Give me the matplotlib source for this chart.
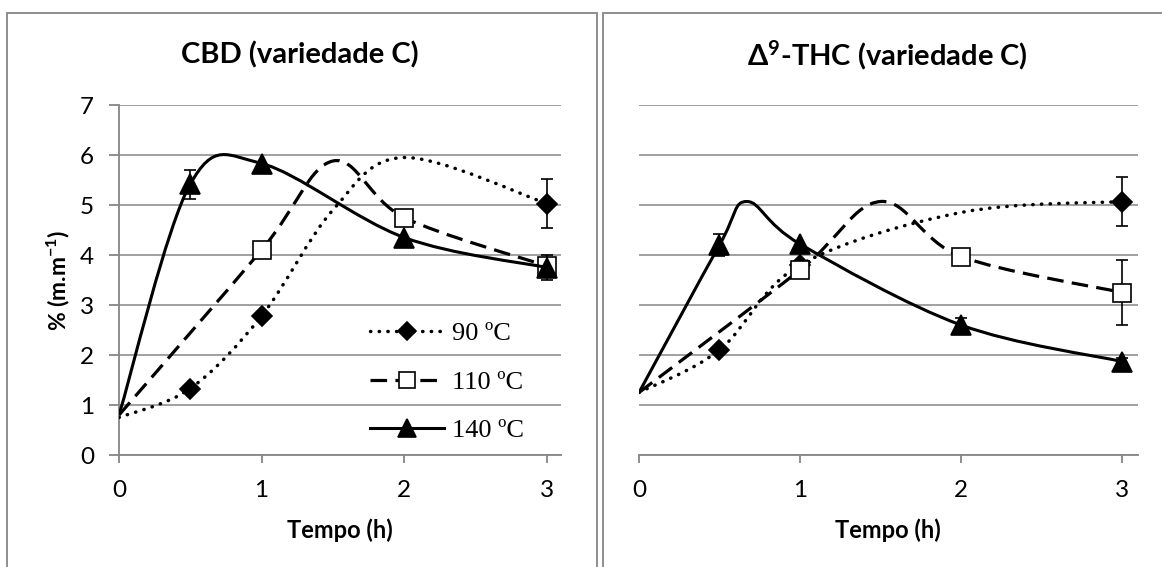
import matplotlib
matplotlib.use("Agg")
import matplotlib.pyplot as plt
import numpy as np
from matplotlib.path import Path
from matplotlib.patches import PathPatch, Rectangle
from matplotlib.lines import Line2D

# CBD (variedade C) -- pontos sem marcador (False) so dao forma a curva suavizada
t_cbd_90 = [0, 0.5, 1, 1.5, 2, 3]
cbd_90 = [0.75, 1.33, 2.78, 4.9, 5.95, 5.03]
cbd_90_mark = [False, True, True, False, False, True]
cbd_90_err = [0, 0, 0, 0, 0, 0.49]

t_cbd_110 = [0, 1, 1.5, 2, 3]
cbd_110 = [0.8, 4.1, 5.88, 4.75, 3.78]
cbd_110_mark = [False, True, False, True, True]
cbd_110_err = [0, 0, 0, 0, 0.15]

t_cbd_140 = [0, 0.5, 1, 2, 3]
cbd_140 = [0.8, 5.42, 5.83, 4.35, 3.75]
cbd_140_mark = [False, True, True, True, True]
cbd_140_err = [0, 0.29, 0, 0, 0.25]

# delta9-THC (variedade C)
t_thc_90 = [0, 0.5, 1, 2, 3]
thc_90 = [1.25, 2.1, 3.8, 4.85, 5.07]
thc_90_mark = [False, True, True, False, True]
thc_90_err = [0, 0, 0, 0, 0.49]

t_thc_110 = [0, 1, 1.5, 2, 3]
thc_110 = [1.25, 3.7, 5.07, 3.97, 3.25]
thc_110_mark = [False, True, False, True, True]
thc_110_err = [0, 0, 0, 0, 0.65]

t_thc_140 = [0, 0.5, 0.67, 1, 2, 3]
thc_140 = [1.25, 4.2, 5.07, 4.22, 2.6, 1.87]
thc_140_mark = [False, True, False, True, True, True]
thc_140_err = [0, 0.22, 0, 0, 0.15, 0.08]

labels = ["90 ºC", "110 ºC", "140 ºC"]
x_ticks = [0, 1, 2, 3]
y_ticks = [0, 1, 2, 3, 4, 5, 6, 7]

gray = "#868686"
font_lbl = ["Lato", "DejaVu Sans"]

# estilos: pontilhado, tracejado, continuo
styles = [
    dict(marker="D", ms=10, mfc="black", ls=(0, (0.1, 2.4)), lw=2.5, cap="round"),
    dict(marker="s", ms=13, mfc="white", ls=(0, (5.2, 2.6)), lw=2.3, cap="butt"),
    dict(marker="^", ms=14, mfc="black", ls="-", lw=2.2, cap="butt"),
]


def smooth_path(xs, ys):
    # curva suavizada tipo Excel (Bezier com pontos de controle de Catmull-Rom)
    pts = np.column_stack([xs, ys]).astype(float)
    n = len(pts)
    verts = [pts[0]]
    codes = [Path.MOVETO]
    for i in range(n - 1):
        p0 = pts[i - 1] if i > 0 else pts[i]
        p1 = pts[i]
        p2 = pts[i + 1]
        p3 = pts[i + 2] if i + 2 < n else pts[i + 1]
        verts += [p1 + (p2 - p0) / 6, p2 - (p3 - p1) / 6, p2]
        codes += [Path.CURVE4] * 3
    return Path(verts, codes)


def draw_series(ax, t, y, mark, err, st, z):
    ax.add_patch(PathPatch(smooth_path(t, y), fill=False, edgecolor="black",
                           lw=st["lw"], linestyle=st["ls"], capstyle=st["cap"],
                           zorder=z))
    t = np.array(t)
    y = np.array(y)
    err = np.array(err)
    m = np.array(mark)
    e = m & (err > 0)
    if e.any():
        ax.errorbar(t[e], y[e], yerr=err[e], fmt="none", ecolor="black",
                    elinewidth=1.2, capsize=4, capthick=1.2, zorder=z)
    ax.plot(t[m], y[m], ls="none", marker=st["marker"], ms=st["ms"],
            mfc=st["mfc"], mec="black", mew=1.2, zorder=z + 0.5, clip_on=False)


def setup(ax, show_y):
    ax.set_xlim(0, 3.1)
    ax.set_ylim(0, 7)
    ax.set_xticks(x_ticks)
    ax.set_yticks(y_ticks)
    ax.grid(axis="y", color=gray, lw=1.1)
    ax.set_axisbelow(True)
    for s in ["top", "right"]:
        ax.spines[s].set_visible(False)
    ax.spines["bottom"].set_color(gray)
    ax.spines["bottom"].set_linewidth(1.3)
    ax.tick_params(axis="x", colors=gray, length=6, width=1.3, pad=12,
                   labelcolor="black", labelsize=17.5)
    if show_y:
        ax.spines["left"].set_color(gray)
        ax.spines["left"].set_linewidth(1.3)
        ax.tick_params(axis="y", colors=gray, length=7, width=1.3, pad=11,
                       labelcolor="black", labelsize=17.5)
    else:
        ax.spines["left"].set_visible(False)
        ax.tick_params(axis="y", length=0, labelleft=False)
    for lab in ax.get_xticklabels() + ax.get_yticklabels():
        lab.set_family(font_lbl)


fig = plt.figure(figsize=(11.62, 5.67), dpi=100)
W, H = 1162, 567

# molduras das duas areas de grafico
fig.patches.append(Rectangle((7 / W, -0.1), 590 / W, 1.1 - 13 / H,
                             transform=fig.transFigure, fill=False,
                             edgecolor=gray, lw=1.3))
fig.patches.append(Rectangle((603 / W, -0.1), 600 / W, 1.1 - 13 / H,
                             transform=fig.transFigure, fill=False,
                             edgecolor=gray, lw=1.3))

ax1 = fig.add_axes([119 / W, 112 / H, 442 / W, 350 / H])
ax2 = fig.add_axes([639 / W, 112 / H, 499 / W, 350 / H])
setup(ax1, True)
setup(ax2, False)

cbd = [(t_cbd_90, cbd_90, cbd_90_mark, cbd_90_err),
       (t_cbd_110, cbd_110, cbd_110_mark, cbd_110_err),
       (t_cbd_140, cbd_140, cbd_140_mark, cbd_140_err)]
thc = [(t_thc_90, thc_90, thc_90_mark, thc_90_err),
       (t_thc_110, thc_110, thc_110_mark, thc_110_err),
       (t_thc_140, thc_140, thc_140_mark, thc_140_err)]

for i, (t, y, m, e) in enumerate(cbd):
    draw_series(ax1, t, y, m, e, styles[i], 3 + i)
for i, (t, y, m, e) in enumerate(thc):
    draw_series(ax2, t, y, m, e, styles[i], 3 + i)

# titulos e rotulos
fig.text(300 / W, 1 - 55 / H, "CBD (variedade C)", ha="center", va="center",
         fontsize=21, fontweight="bold", family=font_lbl)
fig.text(887 / W, 1 - 55 / H, "$\\mathregular{\\Delta^9}$-THC (variedade C)",
         ha="center", va="center", fontsize=21, fontweight="bold",
         family=font_lbl)
fig.text(340 / W, 1 - 530 / H, "Tempo (h)", ha="center", va="center",
         fontsize=17, fontweight="bold", family=font_lbl)
fig.text(888 / W, 1 - 530 / H, "Tempo (h)", ha="center", va="center",
         fontsize=17, fontweight="bold", family=font_lbl)
fig.text(58 / W, 1 - 280 / H, "% (m.m$\\mathregular{^{-1}}$)", ha="center",
         va="center", rotation=90, fontsize=16.5, fontweight="bold",
         family=font_lbl)

# legenda
handles = []
for st in styles:
    h = Line2D([], [], color="black", lw=st["lw"], marker=st["marker"],
               ms=st["ms"] * 0.9, mfc=st["mfc"], mec="black", mew=1.2)
    if isinstance(st["ls"], tuple):
        h.set_dashes(st["ls"][1])
        h.set_dash_capstyle(st["cap"])
    handles.append(h)
ax1.legend(handles, labels, loc="center left",
           bbox_to_anchor=(370 / W, 1 - 382 / H), bbox_transform=fig.transFigure,
           frameon=False, numpoints=1, handlelength=2.8, handletextpad=0.3,
           labelspacing=0.95, borderpad=0, borderaxespad=0,
           prop={"family": "Liberation Serif", "size": 19})

fig.savefig("out.png", dpi=100)
